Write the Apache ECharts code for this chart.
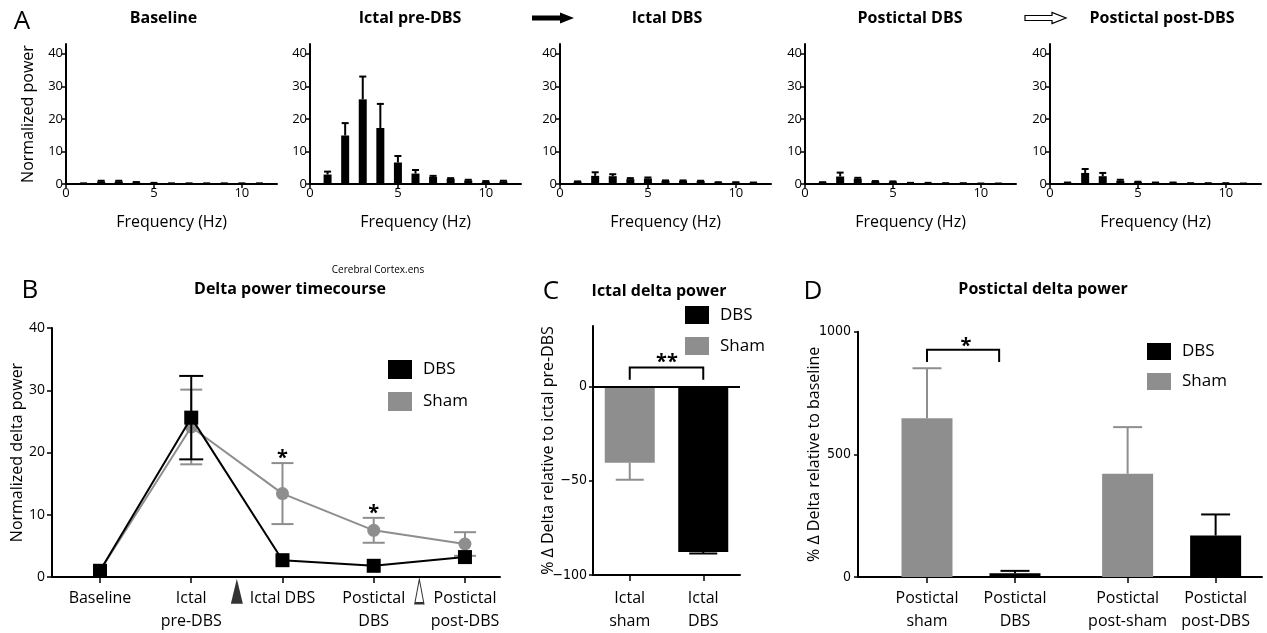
<!DOCTYPE html>
<html><head><meta charset="utf-8">
<script src="https://cdn.jsdelivr.net/npm/echarts@6/dist/echarts.min.js"></script>
<style>html,body{margin:0;padding:0;background:#fff}#c{width:1267px;height:633px}</style>
</head><body><div id="c"></div>
<script>
// ================= DATA =================
// Panel A: power spectra (frequency bins 1..11 Hz)
const freqHz = [1, 2, 3, 4, 5, 6, 7, 8, 9, 10, 11];
const specTitles = ['Baseline', 'Ictal pre-DBS', 'Ictal DBS', 'Postictal DBS', 'Postictal post-DBS'];
const specBaseline    = [0.15, 0.8, 0.8, 0.5, 0.3, 0.15, 0.15, 0.15, 0.15, 0.15, 0.15];
const specBaselineErr = [0.05, 0.2, 0.2, 0.1, 0.05, 0.05, 0.05, 0.05, 0.05, 0.05, 0.05];
const specIctalPre    = [2.9, 14.9, 26.0, 17.2, 6.6, 3.2, 2.2, 1.6, 1.1, 0.7, 0.8];
const specIctalPreErr = [0.9, 3.8, 7.0, 7.4, 2.0, 1.1, 0.3, 0.2, 0.2, 0.2, 0.2];
const specIctalDBS    = [0.7, 2.5, 2.4, 1.5, 1.7, 1.0, 1.0, 0.9, 0.5, 0.5, 0.4];
const specIctalDBSErr = [0.1, 1.1, 0.6, 0.3, 0.3, 0.1, 0.1, 0.1, 0.05, 0.05, 0.05];
const specPostDBS     = [0.5, 2.3, 1.6, 0.8, 0.7, 0.3, 0.3, 0.2, 0.2, 0.1, 0.1];
const specPostDBSErr  = [0.05, 1.2, 0.3, 0.1, 0.1, 0.05, 0.05, 0.05, 0.05, 0.05, 0.05];
const specPostPost    = [0.4, 3.4, 2.4, 1.0, 0.6, 0.4, 0.4, 0.2, 0.2, 0.2, 0.1];
const specPostPostErr = [0.05, 1.2, 1.0, 0.3, 0.1, 0.05, 0.05, 0.05, 0.05, 0.05, 0.05];
const specXTicks = [0, 5, 10];
const specYTicks = [0, 10, 20, 30, 40];

// Panel B: delta power timecourse
const tcCategories = ['Baseline', 'Ictal\npre-DBS', 'Ictal DBS', 'Postictal\nDBS', 'Postictal\npost-DBS'];
const tcDBS     = [1.0, 25.6, 2.7, 1.8, 3.2];
const tcDBSErr  = [0, 6.7, 0, 0, 0];
const tcSham    = [1.0, 24.1, 13.4, 7.5, 5.3];
const tcShamErr = [0, 6.0, 4.9, 2.0, 1.9];
const tcStarAt  = [[2, 19.0], [3, 10.2]];       // [category, y] of "*"
const tcStimMarks = [[1.5, -2.3], [3.5, -2.3]];  // DBS on (filled) / off (open) triangles

// Panel C: ictal delta power
const ictalCats   = ['Ictal\nsham', 'Ictal\nDBS'];
const ictalGroup  = ['Sham', 'DBS'];
const ictalValues = [-40.5, -87.8];
const ictalErr    = [9.0, 0.8];
const ictalYTicks = [-100, -50, 0];
const ictalBracket = [[0, 1, 10, 3.5]];          // x1, x2, yTop, yLeg
const ictalStars   = [[0.507, 12.5, '**']];

// Panel D: postictal delta power
const postCats   = ['Postictal\nsham', 'Postictal\nDBS', 'Postictal\npost-sham', 'Postictal\npost-DBS'];
const postGroup  = ['Sham', 'DBS', 'Sham', 'DBS'];
const postValues = [647, 15, 421, 169];
const postErr    = [204, 10, 190, 86];
const postYTicks = [0, 500, 1000];
const postBracket = [[0, 0.82, 926, 876]];
const postStars   = [[0.443, 939, '*']];

// ================= LAYOUT / STYLE =================
const FONT = '"Open Sans", sans-serif';
const NARROW = '"Liberation Sans Narrow", "DejaVu Sans Condensed", "Open Sans", sans-serif';
const BLACK = '#000';
const GRAY = '#8e8e8e';
const A_LEFT = [66, 310, 560, 805, 1050];
const A_TITLE_X = [163.5, 410, 667, 910, 1162];
const D_SLOTS = [0, 1, 2.28, 3.28];

const specVals = [specBaseline, specIctalPre, specIctalDBS, specPostDBS, specPostPost];
const specErrs = [specBaselineErr, specIctalPreErr, specIctalDBSErr, specPostDBSErr, specPostPostErr];

function errItem(color, capHalf, both, lw) {
  return function (params, api) {
    const x = api.value(0), v = api.value(1), e = api.value(2);
    if (!(e > 0)) return null;
    const dir = v < 0 ? -1 : 1;
    const a = both ? v - e : v, b = v + dir * e;
    const pa = api.coord([x, a]), pb = api.coord([x, b]);
    const st = { stroke: color, lineWidth: lw };
    const ch = [
      { type: 'line', shape: { x1: pa[0], y1: pa[1], x2: pb[0], y2: pb[1] }, style: st },
      { type: 'line', shape: { x1: pb[0] - capHalf, y1: pb[1], x2: pb[0] + capHalf, y2: pb[1] }, style: st }
    ];
    if (both) ch.push({ type: 'line', shape: { x1: pa[0] - capHalf, y1: pa[1], x2: pa[0] + capHalf, y2: pa[1] }, style: st });
    return { type: 'group', children: ch };
  };
}
function bracketItem(params, api) {
  const p1 = api.coord([api.value(0), api.value(3)]);
  const p2 = api.coord([api.value(0), api.value(2)]);
  const p3 = api.coord([api.value(1), api.value(2)]);
  const p4 = api.coord([api.value(1), api.value(3)]);
  return { type: 'polyline', shape: { points: [p1, p2, p3, p4] }, style: { stroke: BLACK, lineWidth: 2, fill: null } };
}
function starItem(texts) {
  return function (params, api) {
    const p = api.coord([api.value(0), api.value(1)]);
    return { type: 'text', x: p[0], y: p[1], style: { text: texts[params.dataIndex], fill: BLACK,
      fontSize: 20, fontWeight: 'bold', fontFamily: FONT, align: 'center', verticalAlign: 'middle' } };
  };
}
const axLine = { show: true, onZero: false, lineStyle: { color: BLACK, width: 2 } };
const tickSt = { color: BLACK, width: 1.5 };

const grid = [], xAxis = [], yAxis = [], series = [];

// ----- Panel A -----
for (let i = 0; i < 5; i++) {
  grid.push({ left: A_LEFT[i], top: 44, width: 211, height: 140 });
  xAxis.push({ gridIndex: i, type: 'value', min: 0, max: 12, axisLine: axLine,
    axisTick: { show: true, length: 4, customValues: specXTicks, lineStyle: tickSt },
    axisLabel: { customValues: specXTicks, color: BLACK, fontSize: 13, margin: 3, fontFamily: FONT },
    splitLine: { show: false }, name: 'Frequency (Hz)', nameLocation: 'middle', nameGap: 30, nameMoveOverlap: false,
    nameTextStyle: { fontSize: 16, color: BLACK, fontFamily: FONT } });
  yAxis.push({ gridIndex: i, type: 'value', min: 0, max: 43, axisLine: axLine,
    axisTick: { show: true, length: 4, customValues: specYTicks, lineStyle: tickSt },
    axisLabel: { customValues: specYTicks, color: BLACK, fontSize: 13, margin: 3, fontFamily: FONT },
    splitLine: { show: false }, name: i === 0 ? 'Normalized power' : '', nameLocation: 'middle', nameGap: 30,
    nameMoveOverlap: false, nameTextStyle: { fontSize: 16, color: BLACK, fontFamily: FONT } });
  series.push({ type: 'bar', name: 'spec' + i, xAxisIndex: i, yAxisIndex: i, barWidth: 8, silent: true,
    itemStyle: { color: BLACK }, data: freqHz.map((f, j) => [f, specVals[i][j]]) });
  series.push({ type: 'custom', xAxisIndex: i, yAxisIndex: i, silent: true, z: 3,
    renderItem: errItem(BLACK, 3.5, false, 2), data: freqHz.map((f, j) => [f, specVals[i][j], specErrs[i][j]]) });
}

// ----- Panel B -----
grid.push({ left: 52, top: 328, width: 448, height: 250 });
xAxis.push({ gridIndex: 5, type: 'value', min: -0.526, max: 4.384, axisLine: axLine,
  axisTick: { show: true, length: 6, customValues: [0, 1, 2, 3, 4], lineStyle: tickSt },
  axisLabel: { customValues: [0, 1, 2, 3, 4], formatter: v => tcCategories[Math.round(v)], color: BLACK,
    fontSize: 16, lineHeight: 23, margin: 10, fontFamily: FONT }, splitLine: { show: false } });
yAxis.push({ gridIndex: 5, type: 'value', min: 0, max: 40, interval: 10, axisLine: axLine,
  axisTick: { show: true, length: 5, lineStyle: tickSt },
  axisLabel: { color: BLACK, fontSize: 14, margin: 7, fontFamily: FONT }, splitLine: { show: false },
  name: 'Normalized delta power', nameLocation: 'middle', nameGap: 27, nameMoveOverlap: false,
  nameTextStyle: { fontSize: 16, color: BLACK, fontFamily: FONT } });
series.push({ type: 'line', name: 'Sham', xAxisIndex: 5, yAxisIndex: 5, z: 2, silent: true,
  symbol: 'circle', symbolSize: 13, lineStyle: { color: GRAY, width: 2 }, itemStyle: { color: GRAY },
  data: tcSham.map((v, i) => [i, v]) });
series.push({ type: 'custom', xAxisIndex: 5, yAxisIndex: 5, z: 2, silent: true,
  renderItem: errItem(GRAY, 11, true, 2), data: tcSham.map((v, i) => [i, v, tcShamErr[i]]) });
series.push({ type: 'custom', xAxisIndex: 5, yAxisIndex: 5, z: 3, silent: true,
  renderItem: errItem(BLACK, 12, true, 2), data: tcDBS.map((v, i) => [i, v, tcDBSErr[i]]) });
series.push({ type: 'line', name: 'DBS', xAxisIndex: 5, yAxisIndex: 5, z: 4, silent: true,
  symbol: 'rect', symbolSize: 14, lineStyle: { color: BLACK, width: 2 }, itemStyle: { color: BLACK },
  data: tcDBS.map((v, i) => [i, v]) });
series.push({ type: 'scatter', xAxisIndex: 5, yAxisIndex: 5, symbol: 'triangle', clip: false, silent: true,
  data: [
    { value: tcStimMarks[0], symbolSize: [12, 25], itemStyle: { color: BLACK } },
    { value: tcStimMarks[1], symbolSize: [9, 24], itemStyle: { color: '#fff', borderColor: BLACK, borderWidth: 1.5 } }
  ] });
series.push({ type: 'custom', xAxisIndex: 5, yAxisIndex: 5, silent: true, clip: false,
  renderItem: starItem(tcStarAt.map(() => '*')), data: tcStarAt });

// ----- Panel C -----
grid.push({ left: 593, top: 326, width: 147, height: 250 });
xAxis.push({ gridIndex: 6, type: 'value', min: -0.5, max: 1.5, axisLine: axLine,
  axisTick: { show: true, length: 6, customValues: [0, 1], lineStyle: tickSt },
  axisLabel: { customValues: [0, 1], formatter: v => ictalCats[Math.round(v)], color: BLACK,
    fontSize: 16, lineHeight: 23, margin: 12, fontFamily: FONT }, splitLine: { show: false } });
yAxis.push({ gridIndex: 6, type: 'value', min: -100, max: 32, axisLine: axLine,
  axisTick: { show: true, length: 4, customValues: ictalYTicks, lineStyle: tickSt },
  axisLabel: { customValues: ictalYTicks, formatter: v => (v < 0 ? '\u2212' + Math.abs(v) : String(v)),
    color: BLACK, fontSize: 14, margin: 6, fontFamily: NARROW }, splitLine: { show: false },
  name: '% \u0394 Delta relative to ictal pre-DBS', nameLocation: 'middle', nameGap: 37, nameMoveOverlap: false,
  nameTextStyle: { fontSize: 16, color: BLACK, fontFamily: FONT } });
['Sham', 'DBS'].forEach((g, k) => {
  const col = g === 'DBS' ? BLACK : GRAY;
  const idx = ictalGroup.map((gg, i) => gg === g ? i : -1).filter(i => i >= 0);
  const s = { type: 'bar', name: g, xAxisIndex: 6, yAxisIndex: 6, barWidth: 50, barGap: '-100%', silent: true,
    itemStyle: { color: col }, data: idx.map(i => [i, ictalValues[i]]) };
  if (k === 0) s.markLine = { silent: true, symbol: ['none', 'none'], label: { show: false },
    lineStyle: { color: BLACK, width: 2, type: 'solid' }, data: [{ yAxis: 0 }] };
  series.push(s);
  series.push({ type: 'custom', xAxisIndex: 6, yAxisIndex: 6, silent: true, z: 3,
    renderItem: errItem(col, 14, false, 2), data: idx.map(i => [i, ictalValues[i], ictalErr[i]]) });
});
series.push({ type: 'custom', xAxisIndex: 6, yAxisIndex: 6, silent: true, clip: false,
  renderItem: bracketItem, data: ictalBracket });
series.push({ type: 'custom', xAxisIndex: 6, yAxisIndex: 6, silent: true, clip: false,
  renderItem: starItem(ictalStars.map(s => s[2])), data: ictalStars.map(s => [s[0], s[1]]) });

// ----- Panel D -----
grid.push({ left: 858, top: 331.7, width: 404, height: 247.6 });
xAxis.push({ gridIndex: 7, type: 'value', min: -0.784, max: 3.807, axisLine: axLine,
  axisTick: { show: true, length: 6, customValues: D_SLOTS, lineStyle: tickSt },
  axisLabel: { customValues: D_SLOTS, formatter: v => postCats[D_SLOTS.indexOf(v)], color: BLACK,
    fontSize: 16, lineHeight: 23, margin: 10, fontFamily: FONT }, splitLine: { show: false } });
yAxis.push({ gridIndex: 7, type: 'value', min: 0, max: 1000, axisLine: axLine,
  axisTick: { show: true, length: 4, customValues: postYTicks, lineStyle: tickSt },
  axisLabel: { customValues: postYTicks, formatter: v => String(v), color: BLACK, fontSize: 14, margin: 7, fontFamily: NARROW },
  splitLine: { show: false },
  name: '% \u0394 Delta relative to baseline', nameLocation: 'middle', nameGap: 36, nameMoveOverlap: false,
  nameTextStyle: { fontSize: 16, color: BLACK, fontFamily: FONT } });
['Sham', 'DBS'].forEach(g => {
  const col = g === 'DBS' ? BLACK : GRAY;
  const idx = postGroup.map((gg, i) => gg === g ? i : -1).filter(i => i >= 0);
  series.push({ type: 'bar', name: g, xAxisIndex: 7, yAxisIndex: 7, barWidth: 51, barGap: '-100%', silent: true,
    itemStyle: { color: col }, data: idx.map(i => [D_SLOTS[i], postValues[i]]) });
  series.push({ type: 'custom', xAxisIndex: 7, yAxisIndex: 7, silent: true, z: 3,
    renderItem: errItem(col, 14.5, false, 2), data: idx.map(i => [D_SLOTS[i], postValues[i], postErr[i]]) });
});
series.push({ type: 'custom', xAxisIndex: 7, yAxisIndex: 7, silent: true, clip: false,
  renderItem: bracketItem, data: postBracket });
series.push({ type: 'custom', xAxisIndex: 7, yAxisIndex: 7, silent: true, clip: false,
  renderItem: starItem(postStars.map(s => s[2])), data: postStars.map(s => [s[0], s[1]]) });

// ----- Legends -----
const legendBase = { orient: 'vertical', icon: 'rect', itemWidth: 24, selectedMode: false, padding: 0,
  data: ['DBS', 'Sham'], textStyle: { fontSize: 17, color: BLACK, fontFamily: FONT, padding: [0, 0, 0, 6] } };
const legend = [
  Object.assign({}, legendBase, { left: 388, top: 360, itemHeight: 19, itemGap: 13 }),
  Object.assign({}, legendBase, { left: 685, top: 306, itemHeight: 18, itemGap: 13 }),
  Object.assign({}, legendBase, { left: 1147, top: 343, itemHeight: 17, itemGap: 13 })
];

// ----- Texts & arrows -----
function txt(x, y, text, size, weight) {
  return { type: 'text', x, y, silent: true, style: { text, fill: BLACK, fontSize: size, fontWeight: weight || 'normal',
    fontFamily: FONT, align: 'center', verticalAlign: 'middle' } };
}
const graphic = [
  txt(22, 22, 'A', 26), txt(30, 291, 'B', 26), txt(551, 292, 'C', 26), txt(813, 292, 'D', 26),
  txt(378, 270, 'Cerebral Cortex.ens', 10),
  txt(290, 289, 'Delta power timecourse', 16, 'bold'),
  txt(659, 291, 'Ictal delta power', 16, 'bold'),
  txt(1043, 289, 'Postictal delta power', 16, 'bold'),
  { type: 'polygon', silent: true, shape: { points: [[532, 15.5], [560, 15.5], [560, 12.5], [574, 18], [560, 23.5], [560, 20.5], [532, 20.5]] },
    style: { fill: BLACK } },
  { type: 'polygon', silent: true, shape: { points: [[1025, 15.5], [1052, 15.5], [1052, 12.5], [1066, 18], [1052, 23.5], [1052, 20.5], [1025, 20.5]] },
    style: { fill: '#fff', stroke: BLACK, lineWidth: 1.2 } }
].concat(specTitles.map((t, i) => txt(A_TITLE_X[i], 18, t, 16, 'bold')));

const chart = echarts.init(document.getElementById('c'), null, { renderer: 'canvas' });
chart.setOption({ animation: false, backgroundColor: '#fff', grid, xAxis, yAxis, series, legend, graphic });
</script></body></html>
